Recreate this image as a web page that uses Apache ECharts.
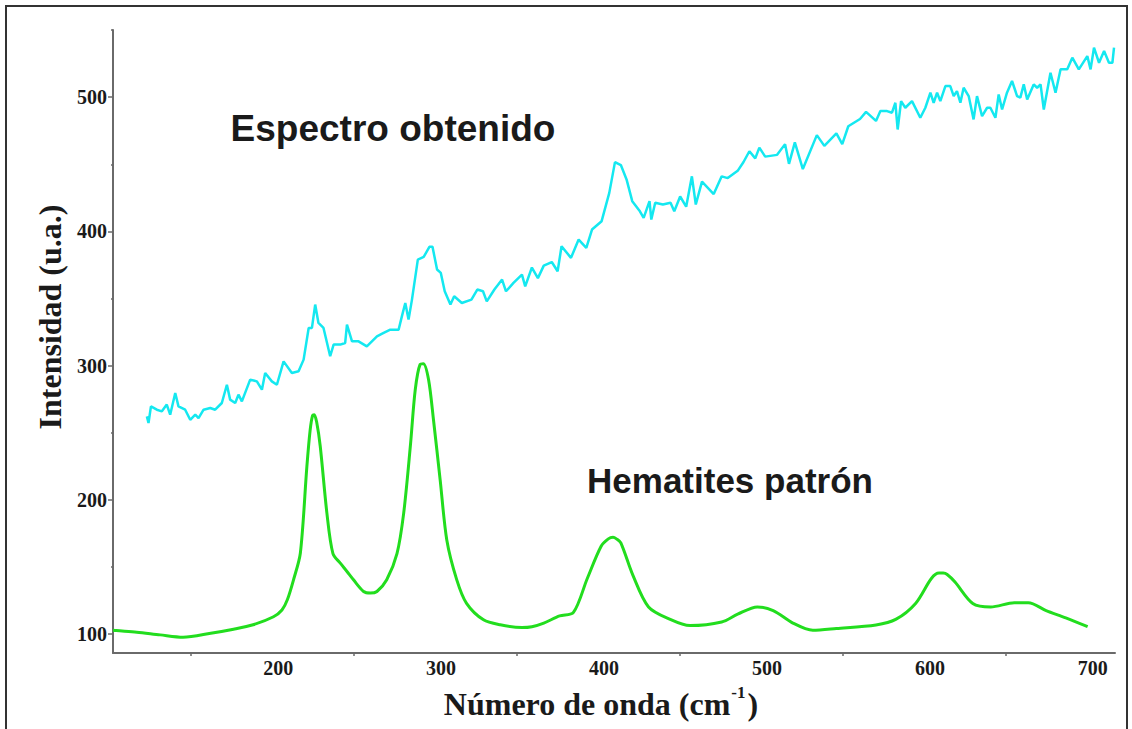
<!DOCTYPE html>
<html>
<head>
<meta charset="utf-8">
<script src="https://cdn.jsdelivr.net/npm/echarts@6/dist/echarts.min.js"></script>
<style>
  html, body { margin: 0; padding: 0; background: #ffffff; }
  #chart { width: 1132px; height: 729px; }
</style>
</head>
<body>
<div id="chart"></div>
<script>
// ---- Data ----
// Hematites patrón (green reference spectrum)
var patronX = [102, 104, 116.6, 131, 145, 162, 176, 188, 200.5, 205.7, 209, 212.8, 217, 221, 223, 224.5, 225.5, 227, 229.2, 233.3, 237, 241.5, 245.6, 249.6, 255.8, 260, 264, 270, 276.3, 280.4, 284.5, 287.5, 290.5, 292.5, 295.7, 298.7, 302.8, 306.9, 313, 319, 329.4, 339.7, 353, 359.1, 366.4, 376.1, 384.6, 393.1, 401.6, 406, 408.9, 411, 413.7, 421, 430.7, 444, 456.2, 475.6, 485.4, 497.5, 507.2, 519.3, 531.5, 546, 570.3, 582.4, 594.6, 604.3, 609, 611.6, 614, 618.8, 629.7, 640.7, 655.2, 663.8, 674.7, 686.8, 700.2];
var patronY = [103, 102.7, 101.5, 99.5, 97.8, 100.7, 103.7, 107, 113, 118, 125.6, 140.5, 160.5, 225, 252, 263, 263.5, 258, 240, 190, 160, 152.9, 146.7, 140.5, 131.8, 130.6, 131.8, 140.5, 160, 190, 240, 282, 301, 301.5, 289.5, 259.7, 215, 170, 140.5, 123, 110.7, 107, 105, 105.6, 108.3, 113.6, 116.2, 141.5, 165.5, 171, 172.2, 171, 168, 144.2, 120.3, 111, 106.4, 109.1, 114.9, 120.3, 117.6, 108.3, 102.9, 104.2, 106.9, 111, 122.9, 141.5, 145.5, 145.5, 144.5, 138.9, 122.9, 120.3, 123.4, 123.4, 117.6, 112.2, 105.6];

// Espectro obtenido (cyan measured spectrum)
var obtenidoX = [122.8, 123.8, 125.3, 128.9, 132, 135, 137.1, 140.2, 142.2, 146.3, 149.4, 152.5, 154.5, 157.6, 161.7, 164.7, 168.8, 171.9, 173.9, 177, 179, 181.1, 186.2, 190.3, 193.4, 195.4, 199.5, 202.6, 206.7, 211.8, 215.9, 219, 222.1, 224.1, 226.1, 228.1, 231.2, 235.3, 237.4, 241.5, 244.5, 245.6, 248.7, 252.7, 257.8, 264, 268.1, 272.2, 277.3, 279.3, 281.4, 283.4, 285.5, 289.1, 292.7, 296.2, 298.1, 300.9, 303.2, 305.6, 309.1, 311.4, 316.1, 322, 325.6, 329.1, 331.4, 336.1, 340.8, 343.2, 347.8, 353, 355, 359.1, 362.8, 366.4, 371.3, 374.9, 377.3, 383.1, 387.8, 392.5, 396, 401.9, 406.6, 410.1, 413.7, 417.2, 420.7, 425.4, 427.7, 431.3, 432.4, 434.8, 439.5, 444.2, 446.5, 450.1, 453.8, 457.3, 459.7, 463.5, 470.7, 475.6, 479.3, 485.4, 489, 492.6, 496.2, 498.7, 502.3, 509.6, 514.5, 516.9, 520.5, 525.4, 534, 538.6, 546, 549.6, 553.3, 560.5, 564.2, 570.3, 573, 577.1, 580.1, 582.2, 583.6, 585.7, 588.3, 592.4, 597.5, 600.6, 603.7, 605.7, 607.8, 609.8, 612.9, 615.9, 618, 620, 622.1, 624.1, 627.2, 630.2, 632.3, 635.4, 638.5, 640.5, 643.6, 645.6, 647.7, 650.7, 653.8, 656.9, 658.9, 661, 663.1, 667.1, 669.2, 671.3, 673.3, 677.4, 680.5, 683.6, 687.7, 690.8, 694.8, 700, 702, 704.1, 707.2, 710.3, 713.3, 715.4, 716.4];
var obtenidoY = [262.2, 257.3, 269.7, 267.2, 266, 271, 263.5, 279.6, 269.7, 267.2, 259.7, 263.5, 261, 267.2, 268.5, 267.2, 272.2, 285.8, 274.7, 272.2, 278.4, 273.4, 289.6, 288.3, 282.1, 294.6, 288.3, 285.8, 303.2, 294.6, 295.8, 304.5, 328.1, 328.1, 345.5, 331.8, 328.1, 307, 315.7, 315.7, 316.9, 330.6, 318.1, 318.1, 314.4, 321.8, 324.4, 326.8, 326.8, 336.7, 346.7, 334.3, 349.2, 379, 381, 388.5, 388.5, 371.6, 369.1, 355.4, 345.5, 351.7, 346.7, 349.2, 356.7, 355.4, 347.9, 356.7, 364.1, 355.4, 361.6, 367.8, 359.1, 373.1, 365.2, 374.5, 377.2, 370.3, 388.9, 380.3, 393.9, 387.7, 401.4, 407.6, 428.7, 451.6, 449.4, 438.7, 422.5, 415, 410.1, 422.5, 408.8, 421.3, 420, 421.3, 415, 426, 418.4, 441, 420, 437.1, 427.8, 441, 439.7, 445.1, 451.7, 459.7, 454.4, 462.4, 455.7, 457, 465, 450.3, 466.3, 446.4, 471.7, 463.7, 473, 465, 478.3, 483.7, 489, 482.3, 489.6, 489.6, 488.4, 495.8, 475.9, 497, 492.1, 497, 484.6, 492.1, 503.3, 495.8, 503.3, 497, 508.2, 508.2, 500.8, 504.5, 495.8, 507, 500.8, 483.4, 500.8, 485.8, 492.1, 492.1, 484.6, 502, 490.8, 503.3, 512, 500.8, 499.6, 509.5, 498.3, 509.5, 507, 509.5, 490.8, 518.2, 503.3, 520.7, 520.7, 529.4, 520.7, 530.6, 520.7, 536.8, 525.6, 534.3, 525.6, 525.6, 536.8];

// Tick values / labels
var xLabelValues = [200, 300, 400, 500, 600, 700];
var xTickValues = [150, 250, 350, 450, 550, 650];
var yLabelValues = [100, 200, 300, 400, 500];
var yMinorValues = [150, 250, 350, 450, 550];

var seriesNames = ['Hematites patrón', 'Espectro obtenido'];
var xTitle = 'Número de onda (cm';
var yTitle = 'Intensidad (u.a.)';

function pairs(xs, ys) { return xs.map(function (x, i) { return [x, ys[i]]; }); }

var chart = echarts.init(document.getElementById('chart'), null, { renderer: 'svg' });

var serif = '"Liberation Serif", "Times New Roman", serif';
var sans = '"Liberation Sans", Arial, sans-serif';
var axisColor = '#6a6a6a';
var textColor = '#1a1a1a';

chart.setOption({
  animation: false,
  backgroundColor: '#ffffff',
  grid: { left: 113, right: 17, top: 30, bottom: 76, containLabel: false },
  xAxis: {
    type: 'value', min: 102, max: 717,
    axisLine: { show: true, lineStyle: { color: axisColor, width: 2 } },
    axisTick: { show: true, customValues: xTickValues, length: 3, lineStyle: { color: axisColor, width: 1.5 } },
    axisLabel: { show: true, customValues: xLabelValues, margin: 5, color: textColor, fontFamily: serif, fontWeight: 'bold', fontSize: 20, padding: [0, 0, 0, 11] },
    splitLine: { show: false }
  },
  yAxis: [{
    type: 'value', min: 86, max: 550,
    axisLine: { show: true, lineStyle: { color: axisColor, width: 2 } },
    axisTick: { show: true, customValues: yLabelValues, length: 5, lineStyle: { color: axisColor, width: 1.5 } },
    axisLabel: { show: true, customValues: yLabelValues, margin: 6, color: textColor, fontFamily: serif, fontWeight: 'bold', fontSize: 20 },
    splitLine: { show: false }
  }, {
    type: 'value', min: 86, max: 550, position: 'left',
    axisLine: { show: false },
    axisTick: { show: true, customValues: yMinorValues, length: 2, lineStyle: { color: axisColor, width: 1.5 } },
    axisLabel: { show: false },
    splitLine: { show: false }
  }],
  series: [{
    name: seriesNames[0], type: 'line', xAxisIndex: 0, yAxisIndex: 0,
    data: pairs(patronX, patronY),
    showSymbol: false, smooth: 0.3,
    lineStyle: { color: '#22dd1e', width: 3 }
  }, {
    name: seriesNames[1], type: 'line', xAxisIndex: 0, yAxisIndex: 0,
    data: pairs(obtenidoX, obtenidoY),
    showSymbol: false, smooth: false,
    lineStyle: { color: '#14e8f0', width: 2.5 }
  }],
  graphic: [
    { type: 'rect', silent: true, z: -1,
      shape: { x: 6, y: 6, width: 1121, height: 760 },
      style: { fill: 'none', stroke: '#333333', lineWidth: 2 } },
    { type: 'text', x: 601, y: 702,
      style: { text: '{b|' + xTitle + '}{s|-1}{b|)}', align: 'center', verticalAlign: 'middle',
        rich: {
          b: { fontFamily: serif, fontWeight: 'bold', fontSize: 32, fill: textColor, verticalAlign: 'bottom', lineHeight: 36 },
          s: { fontFamily: serif, fontWeight: 'bold', fontSize: 17, fill: textColor, verticalAlign: 'top', lineHeight: 36, padding: [0, 2, 12, 1] }
        } } },
    { type: 'text', x: 50, y: 317, rotation: Math.PI / 2,
      style: { text: yTitle, align: 'center', verticalAlign: 'middle', fontFamily: serif, fontWeight: 'bold', fontSize: 32, fill: textColor } },
    { type: 'text', x: 393, y: 128,
      style: { text: seriesNames[1], align: 'center', verticalAlign: 'middle', fontFamily: sans, fontWeight: 'bold', fontSize: 37, fill: textColor } },
    { type: 'text', x: 730, y: 480,
      style: { text: seriesNames[0], align: 'center', verticalAlign: 'middle', fontFamily: sans, fontWeight: 'bold', fontSize: 35, fill: textColor } }
  ]
});
</script>
</body>
</html>
